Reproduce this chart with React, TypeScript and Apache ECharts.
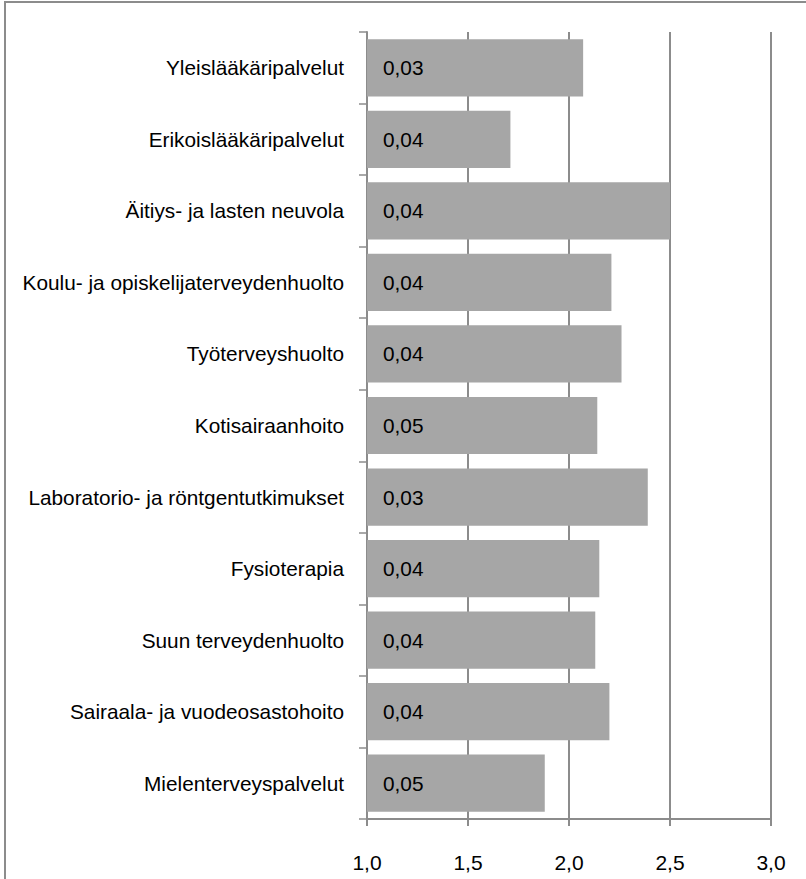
import React, { useEffect, useRef } from "react";
import * as echarts from "echarts";

const categories = [
  "Yleislääkäripalvelut",
  "Erikoislääkäripalvelut",
  "Äitiys- ja lasten neuvola",
  "Koulu- ja opiskelijaterveydenhuolto",
  "Työterveyshuolto",
  "Kotisairaanhoito",
  "Laboratorio- ja röntgentutkimukset",
  "Fysioterapia",
  "Suun terveydenhuolto",
  "Sairaala- ja vuodeosastohoito",
  "Mielenterveyspalvelut",
];

const values = [2.07, 1.71, 2.5, 2.21, 2.26, 2.14, 2.39, 2.15, 2.13, 2.2, 1.88];

const barLabels = ["0,03", "0,04", "0,04", "0,04", "0,04", "0,05", "0,03", "0,04", "0,04", "0,04", "0,05"];

const FONT = "'Liberation Sans', Arial, sans-serif";
const GRAY = "#8c8c8c";

export default function App() {
  const ref = useRef<HTMLDivElement>(null);

  useEffect(() => {
    document.body.style.margin = "0";
    if (!ref.current) return;
    const chart = echarts.init(ref.current, undefined, { renderer: "svg" });
    chart.setOption({
      animation: false,
      backgroundColor: "#ffffff",
      graphic: [
        {
          type: "rect",
          shape: { x: 5, y: 2, width: 900, height: 950 },
          style: { fill: "none", stroke: GRAY, lineWidth: 2 },
          silent: true,
        },
      ],
      grid: {
        left: 367,
        right: 35,
        top: 32,
        bottom: 60,
        containLabel: false,
        outerBoundsMode: "none",
      },
      xAxis: {
        type: "value",
        min: 1,
        max: 3,
        interval: 0.5,
        axisLine: { show: true, lineStyle: { color: GRAY, width: 2 } },
        axisTick: { show: true, length: 7, lineStyle: { color: GRAY, width: 2 } },
        splitLine: { show: true, lineStyle: { color: GRAY, width: 2 } },
        axisLabel: {
          margin: 33,
          fontFamily: FONT,
          fontSize: 21,
          color: "#000",
          formatter: (v: number) => v.toFixed(1).replace(".", ","),
        },
      },
      yAxis: {
        type: "category",
        data: categories,
        inverse: true,
        axisLine: { show: true, lineStyle: { color: GRAY, width: 2 } },
        axisTick: { show: true, length: 8, lineStyle: { color: GRAY, width: 1.5 } },
        axisLabel: {
          margin: 23,
          fontFamily: FONT,
          fontSize: 20.8,
          color: "#000",
        },
      },
      series: [
        {
          type: "bar",
          data: values.map((v, i) => ({
            value: v,
            label: { formatter: barLabels[i] },
          })),
          barCategoryGap: "20%",
          itemStyle: { color: "#a6a6a6" },
          label: {
            show: true,
            position: "insideLeft",
            distance: 16,
            fontFamily: FONT,
            fontSize: 20.8,
            color: "#000",
          },
        },
      ],
    });
    return () => chart.dispose();
  }, []);

  return <div ref={ref} style={{ width: 806, height: 879 }} />;
}
